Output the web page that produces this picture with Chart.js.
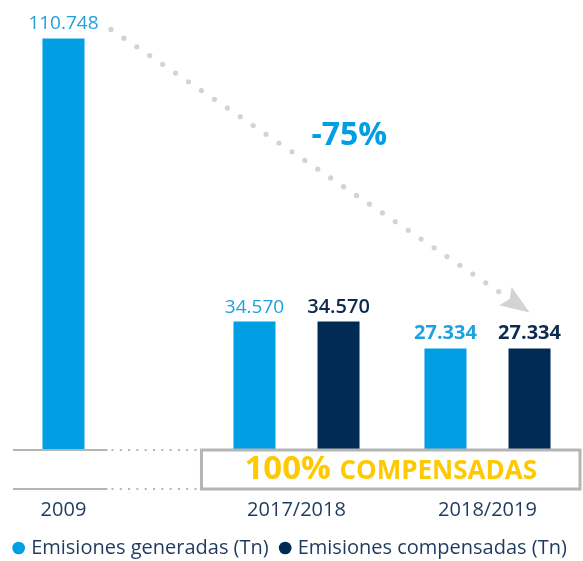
<!DOCTYPE html>
<html>
<head>
<meta charset="utf-8">
<script src="https://cdn.jsdelivr.net/npm/chart.js@4/dist/chart.umd.min.js"></script>
<style>
  html, body { margin: 0; padding: 0; background: #fff; }
  #wrap { width: 583px; height: 561px; }
</style>
</head>
<body>
<div id="wrap"><canvas id="chart"></canvas></div>
<script>
const categories = ['2009', '2017/2018', '2018/2019'];
const generadas = [110748, 34570, 27334];
const compensadas = [null, 34570, 27334];
const seriesNames = ['Emisiones generadas (Tn)', 'Emisiones compensadas (Tn)'];
const boxText = ['100%', 'COMPENSADAS'];

const FONT = "'Open Sans', sans-serif";
const LIGHT = '#009fe3';
const DARK = '#002b54';
const TEXT = '#1f3a5f';
const GREY = '#b5b5b5';

Chart.defaults.font.family = FONT;

// 110748 -> 110.748
const fmt = v => String(v).replace(/\B(?=(\d{3})+(?!\d))/g, '.');

const decor = {
  id: 'decor',
  afterDatasetsDraw(chart) {
    const { ctx, chartArea } = chart;
    const gen = chart.getDatasetMeta(0).data;
    const comp = chart.getDatasetMeta(1).data;
    const base = chartArea.bottom;
    const low = base + 39;
    ctx.save();

    // value labels above the bars
    ctx.textAlign = 'center';
    ctx.textBaseline = 'alphabetic';
    chart.data.datasets.forEach((ds, di) => {
      chart.getDatasetMeta(di).data.forEach((el, i) => {
        const v = ds.data[i];
        if (v == null) return;
        let weight = '';
        if (i === ds.data.length - 1) weight = 'bold ';
        else if (di === 1) weight = '600 ';
        ctx.font = weight + (weight ? '20px ' : '19px ') + FONT;
        ctx.fillStyle = di === 0 ? '#1ea2df' : '#0c2b4f';
        ctx.fillText(fmt(v), el.x, el.y - 9);
      });
    });

    // grey base lines, dotted break and box
    const solidEnd = gen[0].x + gen[0].width / 2 + 23;
    const boxLeft = gen[1].x - gen[1].width / 2 - 32;
    const boxRight = chartArea.right - 3;
    ctx.strokeStyle = GREY;
    ctx.fillStyle = GREY;
    ctx.lineWidth = 2;
    [base, low].forEach(y => {
      ctx.beginPath();
      ctx.moveTo(chartArea.left + 3, y);
      ctx.lineTo(solidEnd, y);
      ctx.stroke();
      for (let x = solidEnd + 5; x < boxLeft - 2; x += 8.3) {
        ctx.fillRect(x - 1, y - 1, 2, 2);
      }
    });
    ctx.lineWidth = 3;
    ctx.strokeRect(boxLeft, base, boxRight - boxLeft, low - base);

    // "100% COMPENSADAS"
    const f1 = 'bold 33px ' + FONT, f2 = 'bold 26px ' + FONT;
    ctx.font = f1;
    const w1 = ctx.measureText(boxText[0] + ' ').width;
    ctx.font = f2;
    const w2 = ctx.measureText(boxText[1]).width;
    const tx = (boxLeft + boxRight) / 2 - (w1 + w2) / 2;
    ctx.textAlign = 'left';
    ctx.fillStyle = '#ffc900';
    ctx.font = f1;
    ctx.fillText(boxText[0], tx, base + 29);
    ctx.font = f2;
    ctx.fillText(boxText[1], tx + w1, base + 29);

    // category labels under the group of bars
    ctx.textAlign = 'center';
    ctx.font = '20px ' + FONT;
    ctx.fillStyle = TEXT;
    categories.forEach((c, i) => {
      const xs = [gen[i], comp[i]].filter((el, k) => [generadas, compensadas][k][i] != null).map(el => el.x);
      const cx = xs.reduce((a, b) => a + b, 0) / xs.length;
      ctx.fillText(c, cx, base + 66);
    });

    // dotted arrow from first bar to last bar
    const sx = gen[0].x + 47.5, sy = gen[0].y - 9;
    const ex = comp[comp.length - 1].x, ey = comp[comp.length - 1].y - 36;
    const dx = ex - sx, dy = ey - sy, len = Math.hypot(dx, dy);
    const ux = dx / len, uy = dy / len;
    const head = 29;
    ctx.fillStyle = '#d3d3d3';
    for (let d = 0; d < len - head - 2; d += 15.6) {
      ctx.beginPath();
      ctx.arc(sx + ux * d, sy + uy * d, 2.6, 0, Math.PI * 2);
      ctx.fill();
    }
    const bx = ex - ux * head, by = ey - uy * head;
    ctx.beginPath();
    ctx.moveTo(ex, ey);
    ctx.lineTo(bx - uy * 11, by + ux * 11);
    ctx.lineTo(bx + ux * 5, by + uy * 5);
    ctx.lineTo(bx + uy * 11, by - ux * 11);
    ctx.closePath();
    ctx.fill();

    // change percentage
    const first = generadas[0], last = generadas[generadas.length - 1];
    const pct = Math.round((last - first) / first * 100);
    ctx.font = 'bold 32px ' + FONT;
    ctx.fillStyle = LIGHT;
    ctx.fillText(pct + '%', (sx + ex) / 2 + 29, (sy + ey) / 2 - 25.5);

    ctx.restore();
  }
};

new Chart(document.getElementById('chart'), {
  type: 'bar',
  data: {
    labels: categories,
    datasets: [
      { label: seriesNames[0], data: generadas, backgroundColor: LIGHT, borderWidth: 0, clip: false },
      { label: seriesNames[1], data: compensadas, backgroundColor: DARK, borderWidth: 0, clip: false }
    ]
  },
  options: {
    responsive: true,
    maintainAspectRatio: false,
    animation: false,
    categoryPercentage: 0.88,
    barPercentage: 0.5,
    layout: { padding: { top: 4, bottom: -7 } },
    scales: {
      x: {
        offset: true,
        grid: { display: false },
        border: { display: false },
        ticks: { display: false },
        afterFit: s => { s.height = 74; }
      },
      y: {
        min: 0,
        max: 120000,
        grid: { display: false },
        border: { display: false },
        ticks: { display: false },
        afterFit: s => { s.width = 10; }
      }
    },
    plugins: {
      tooltip: { enabled: false },
      legend: {
        position: 'bottom',
        labels: {
          usePointStyle: true,
          pointStyle: 'circle',
          boxWidth: 5,
          boxHeight: 9,
          padding: 14,
          color: TEXT,
          font: { size: 20 }
        }
      }
    }
  },
  plugins: [decor]
});
</script>
</body>
</html>
